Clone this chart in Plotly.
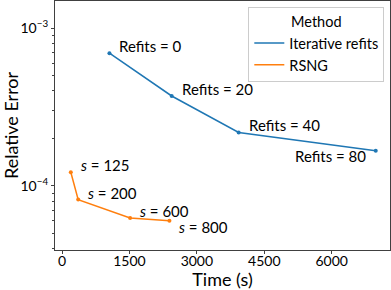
import plotly.graph_objects as go
import math

iter_time = [1055, 2440, 3930, 6980]
iter_err = [6.93e-4, 3.71e-4, 2.18e-4, 1.67e-4]
iter_labels = ["Refits = 0", "Refits = 20", "Refits = 40", "Refits = 80"]

rsng_time = [196, 360, 1515, 2390]
rsng_err = [1.22e-4, 8.19e-5, 6.26e-5, 6.02e-5]
rsng_labels = ["<i>s</i> = 125", "<i>s</i> = 200", "<i>s</i> = 600", "<i>s</i> = 800"]

x_ticks = [0, 1500, 3000, 4500, 6000]
y_ticks = [1e-4, 1e-3]
y_ticktext = ["10<sup>−4</sup>", "10<sup>−3</sup>"]

BLUE = "#1f77b4"
ORANGE = "#ff7f0e"
FONT = "Lato"

fig = go.Figure()
fig.add_trace(go.Scatter(x=iter_time, y=iter_err, mode="lines+markers",
                         line=dict(color=BLUE, width=1.5), marker=dict(size=4, color=BLUE),
                         showlegend=False))
fig.add_trace(go.Scatter(x=rsng_time, y=rsng_err, mode="lines+markers",
                         line=dict(color=ORANGE, width=1.5), marker=dict(size=4, color=ORANGE),
                         showlegend=False))
fig.add_trace(go.Scatter(x=[None], y=[None], mode="lines", name="Iterative refits",
                         line=dict(color=BLUE, width=1.5)))
fig.add_trace(go.Scatter(x=[None], y=[None], mode="lines", name="RSNG",
                         line=dict(color=ORANGE, width=1.5)))

iter_offsets = [(8, -7, "left"), (8, -7, "left"), (8, -7, "left"), (-8, 5, "right")]
for x, y, t, (dx, dy, anc) in zip(iter_time, iter_err, iter_labels, iter_offsets):
    fig.add_annotation(x=x, y=math.log10(y), text=t, showarrow=False, xanchor=anc,
                       yanchor="middle", xshift=dx, yshift=-dy,
                       font=dict(family=FONT, size=15, color="black"))
rsng_offsets = [(8, -7, "left"), (8, -7, "left"), (8, -7, "left"), (8, 6, "left")]
for x, y, t, (dx, dy, anc) in zip(rsng_time, rsng_err, rsng_labels, rsng_offsets):
    fig.add_annotation(x=x, y=math.log10(y), text=t, showarrow=False, xanchor=anc,
                       yanchor="middle", xshift=dx, yshift=-dy,
                       font=dict(family=FONT, size=15, color="black"))

minor_vals = [m * 10.0 ** e for e in (-5, -4, -3) for m in range(2, 10)]

fig.update_layout(
    width=391, height=290,
    margin=dict(l=55, r=1, t=1, b=40),
    paper_bgcolor="white", plot_bgcolor="white",
    font=dict(family=FONT, size=14, color="black"),
    legend=dict(title=dict(text="Method", side="top center", font=dict(size=14.5)),
                x=0.983, y=0.975, xanchor="right", yanchor="top",
                bgcolor="white", bordercolor="#cccccc", borderwidth=1,
                font=dict(size=14.5), itemwidth=30, tracegroupgap=0),
    xaxis=dict(range=[-156, 7297], tickvals=x_ticks, showgrid=False, zeroline=False,
               showline=True, linecolor="#404040", linewidth=1.2, mirror=True,
               ticks="outside", ticklen=3, tickcolor="#404040", ticklabelstandoff=-5,
               tickfont=dict(size=14),
               title=dict(text="Time (s)", font=dict(size=18), standoff=3)),
    yaxis=dict(type="log", range=[-4.406, -2.829], tickvals=y_ticks, ticktext=y_ticktext,
               showgrid=False, zeroline=False,
               showline=True, linecolor="#404040", linewidth=1.2, mirror=True,
               ticks="outside", ticklen=3, tickcolor="#404040",
               tickfont=dict(size=14),
               minor=dict(tickvals=minor_vals, ticks="outside", ticklen=2, tickcolor="#404040"),
               title=dict(text="Relative Error", font=dict(size=18), standoff=6)),
)

fig.write_html("out.html", config={"displayModeBar": False},
               post_script="document.body.style.margin='0';document.body.style.overflow='hidden';")
